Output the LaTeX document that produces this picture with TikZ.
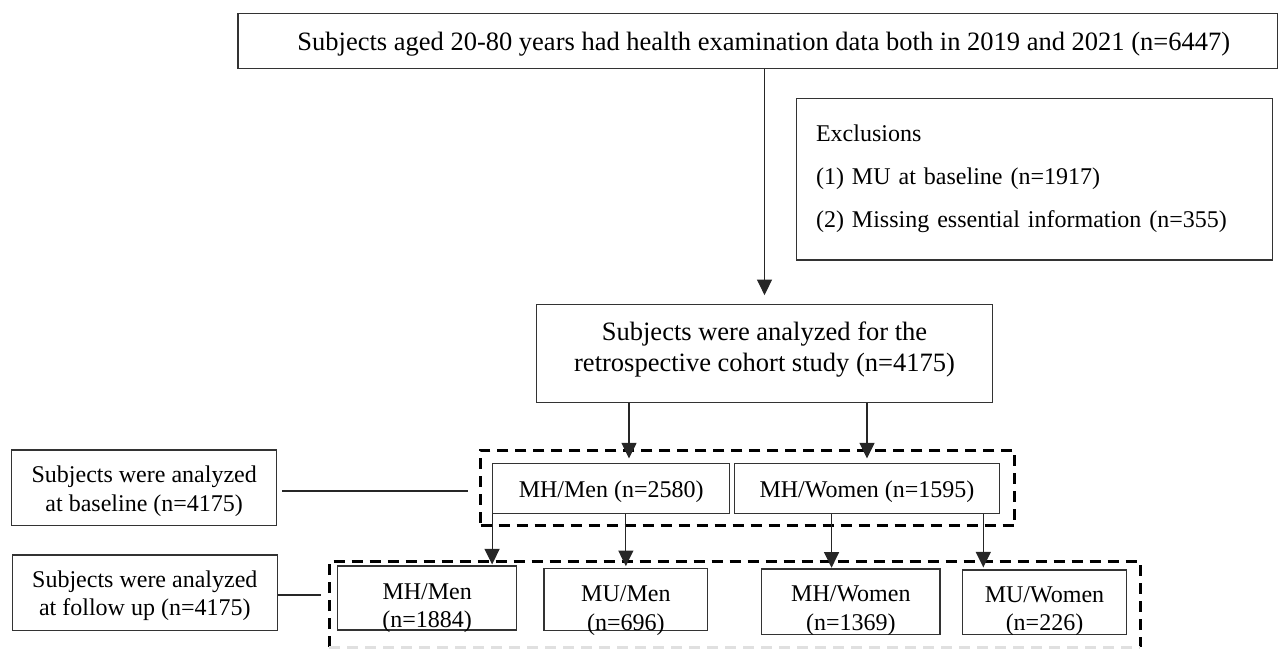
\documentclass[tikz,border=0pt]{standalone}
\usepackage{fontspec}
\setmainfont{Liberation Serif}
\usetikzlibrary{arrows.meta,calc}
\begin{document}
\begin{tikzpicture}[x=1pt,y=-1pt]
\tikzset{
  box/.style={draw=black!80, line width=1.2pt, inner sep=0pt, align=center,
    font=\fontsize{24pt}{28.3pt}\selectfont, text depth=0pt},
  bigbox/.style={box, font=\fontsize{26.5pt}{31pt}\selectfont},
  dframe/.style={draw=black, line width=3pt, dash pattern=on 11pt off 7pt},
  conn/.style={line width=1.2pt, draw=black!85},
  arr/.style={conn, -{Triangle[length=15.5pt,width=15pt]}}
}
\useasboundingbox (0,0) rectangle (1279,648);

% frames
\node[dframe, minimum width=534pt, minimum height=75.7pt, inner sep=0pt] (grp1) at (747.7,487.85) {};
\node[minimum width=810.7pt, minimum height=85pt, inner sep=0pt] (grp2) at (734.65,604.5) {};
\draw[dframe] (grp2.south west) -- (grp2.north west) -- (grp2.north east) -- (grp2.south east);
\draw[dframe, draw=black!12] (grp2.south west) -- (grp2.south east);

% boxes
\node[bigbox, minimum width=1039.5pt, minimum height=55pt, text height=18.4pt] (top) at (757.75,40.8)
  {\hspace*{12pt}Subjects aged 20-80 years had health examination data both in 2019 and 2021 (n=6447)};
\node[box, minimum width=476pt, minimum height=161.3pt, text width=437.4pt, inner xsep=19.3pt,
  align=left, font=\fontsize{24pt}{43pt}\selectfont, text height=0pt, text depth=76.7pt] (excl) at (1034.7,179.35)
  {Exclusions\\(1) MU at baseline (n=1917)\\(2) Missing essential information (n=355)};
\node[bigbox, minimum width=456.4pt, minimum height=97.6pt, text height=35pt] (box2) at (764.5,353.5)
  {Subjects were analyzed for the\\retrospective cohort study (n=4175)};
\node[box, minimum width=237pt, minimum height=49.6pt, text height=17.6pt] (mhm) at (611.2,488.5) {MH/Men (n=2580)};
\node[box, minimum width=265.4pt, minimum height=49.6pt, text height=17.6pt] (mhw) at (867,488.5) {MH/Women (n=1595)};
\node[box, minimum width=265pt, minimum height=75.7pt, text height=46.3pt] (lb1) at (144.2,487.85)
  {Subjects were analyzed\\at baseline (n=4175)};
\node[box, minimum width=265pt, minimum height=75.7pt, text height=45.7pt] (lb2) at (144.8,592.85)
  {Subjects were analyzed\\at follow up (n=4175)};
\node[box, minimum width=179pt, minimum height=64pt, text height=59.4pt] (b1) at (427.2,598) {MH/Men\\(n=1884)};
\node[box, minimum width=163.7pt, minimum height=62.4pt, text height=61pt] (b2) at (625.85,599.5) {MU/Men\\(n=696)};
\node[box, minimum width=178.3pt, minimum height=65.3pt, text height=56.7pt] (b3) at (850.85,601.65) {MH/Women\\(n=1369)};
\node[box, minimum width=164.4pt, minimum height=64.3pt, text height=57pt] (b4) at (1044.5,602.15) {MU/Women\\(n=226)};

% arrows
\draw[arr, shorten >=9pt] (top.south -| box2.north) -- (box2.north);
\coordinate (a1s) at ($(mhm.north)+(17.8,0)$);
\draw[arr, shorten >=4.7pt] (a1s |- box2.south) -- (a1s);
\draw[arr, shorten >=4.7pt] (mhw.north |- box2.south) -- (mhw.north);
\draw[arr, shorten >=1pt] (mhm.south west) -- (mhm.south west |- b1.north);
\draw[arr, shorten >=1.6pt] (b2.north |- mhm.south) -- (b2.north);
\coordinate (a3e) at ($(b3.north)+(-19.3,0)$);
\draw[arr, shorten >=0.7pt] (a3e |- mhw.south) -- (a3e);
\coordinate (a4s) at ($(mhw.south east)+(-17,0)$);
\draw[arr, shorten >=2pt] (a4s) -- (a4s |- b4.north);

% side connectors
\coordinate (l1s) at ($(lb1.east)+(5,3.15)$);
\draw[conn] (l1s) -- ($(l1s -| grp1.west)+(-11.7,0)$);
\coordinate (l2s) at ($(lb2.east)+(0,2.15)$);
\draw[conn] (l2s) -- ($(l2s -| grp2.west)+(-8.6,0)$);
\end{tikzpicture}
\end{document}
